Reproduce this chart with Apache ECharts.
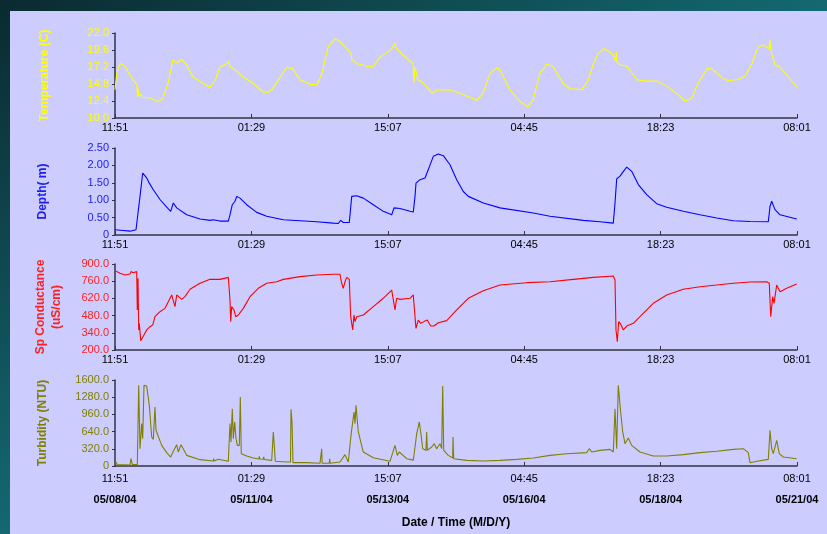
<!DOCTYPE html>
<html><head><meta charset="utf-8">
<script src="https://cdn.jsdelivr.net/npm/echarts@6/dist/echarts.min.js"></script>
<style>
html,body{margin:0;padding:0;width:827px;height:534px;overflow:hidden;
background:linear-gradient(to bottom right,#0a2a30 0%,#146870 50%,#1b7c84 100%);}
#panel{position:absolute;left:10px;top:11px;width:817px;height:523px;background:#ccccff;}
#c{position:absolute;left:0;top:0;width:827px;height:534px;}
</style></head>
<body><div id="panel"></div><div id="c"></div>
<script>
// Elapsed hours since 05/08/04 11:51
var timeLabels = ['11:51','01:29','15:07','04:45','18:23','08:01'];
var dateLabels = ['05/08/04','05/11/04','05/13/04','05/16/04','05/18/04','05/21/04'];

var tempH = [0,0.9,2.26,4.52,7.68,9.94,10.17,10.39,10.84,11.75,12.2,12.65,15.82,19.43,21.69,23.95,26.21,28.02,30.27,32.53,35.25,39.76,42.93,45.19,47.45,50.61,51.51,51.96,53.32,57.84,62.36,66.88,68.68,70.94,73.65,77.72,80.43,83.59,88.11,91.28,93.54,96.25,99.41,101.67,104.83,106.64,107.09,109.35,113.87,116.58,119.74,125.17,126.52,126.97,130.14,134.65,135.11,135.56,136.91,139.17,143.24,145.5,151.37,155.89,163.57,166.28,169.45,172.61,173.97,178.48,183.0,186.62,188.88,192.04,195.2,197.91,202.43,205.6,207.86,211.02,213.73,216.0,218.25,220.96,224.57,226.38,226.51,226.69,228.19,231.35,235.87,240.39,244.91,249.43,253.95,257.56,260.72,263.43,267.5,269.76,274.28,276.99,281.06,284.67,287.83,290.55,292.8,295.52,295.97,296.42,298.23,300.49,303.65,308.1];
var tempV = [14.0,16.5,17.7,17.3,15.6,14.7,13.0,14.3,13.0,13.4,12.9,13.1,12.85,12.3,12.8,14.9,18.2,17.8,18.3,17.4,15.8,14.9,14.35,15.3,17.2,17.7,18.0,17.3,17.0,15.8,14.9,13.7,13.6,14.0,15.3,17.2,16.9,15.4,14.75,14.7,16.3,20.0,21.2,20.8,19.8,19.1,18.2,17.7,17.3,17.2,18.6,19.8,20.6,19.9,18.9,17.7,15.0,17.2,15.4,15.0,13.5,13.95,13.95,13.5,12.5,13.5,16.3,17.1,16.8,13.95,12.33,11.6,12.5,16.3,17.6,17.3,14.9,14.1,14.1,14.0,15.3,17.5,19.1,19.8,19.1,18.0,19.3,18.0,17.5,17.3,15.4,15.2,15.2,14.5,13.4,12.4,12.8,14.9,17.0,16.9,15.7,15.3,15.4,15.9,17.7,20.0,20.3,19.8,21.0,19.5,17.5,17.2,16.0,14.4];

var depthH = [0,3.61,6.78,9.49,10.08,11.3,12.52,13.1,14.32,15.5,17.31,20.33,23.36,25.17,26.34,27.88,32.4,38.41,42.93,44.42,47.45,51.2,51.96,53.0,54.22,54.99,56.48,59.51,64.03,68.55,76.05,83.59,91.14,98.64,100.9,101.98,103.16,105.87,106.96,109.22,112.2,116.72,121.23,125.03,126.07,128.78,133.3,134.79,135.56,136.01,137.82,140.08,141.57,143.83,146.09,148.35,151.37,154.4,157.38,159.64,166.42,173.97,189.01,196.56,211.61,219.15,225.16,225.93,226.69,228.19,229.41,231.22,233.48,236.46,240.25,244.77,249.29,256.79,264.34,271.89,279.39,286.93,295.2,295.97,296.73,298.23,300.49,308.03];
var depthV = [0.15,0.13,0.11,0.15,0.2,1.11,1.78,1.83,1.64,1.49,1.30,1.02,0.80,0.68,0.92,0.78,0.58,0.46,0.42,0.44,0.40,0.40,0.58,0.87,0.97,1.11,1.06,0.87,0.65,0.54,0.44,0.41,0.38,0.34,0.33,0.42,0.36,0.36,1.11,1.13,1.06,0.87,0.68,0.58,0.78,0.76,0.68,0.66,1.11,1.49,1.59,1.64,1.88,2.26,2.33,2.28,2.02,1.59,1.25,1.11,0.92,0.78,0.63,0.54,0.42,0.38,0.34,0.92,1.61,1.69,1.80,1.95,1.83,1.45,1.16,0.90,0.80,0.68,0.58,0.49,0.41,0.39,0.38,0.82,0.97,0.73,0.58,0.46];

var condH = [0,2.26,4.52,6.78,7.23,8.27,9.81,10.08,10.39,10.71,10.98,11.61,12.52,13.1,14.32,15.82,17.04,18.07,20.33,22.59,24.08,25.62,27.11,27.88,30.14,31.63,33.89,38.41,42.93,47.45,51.2,51.96,52.28,52.73,53.18,53.77,54.54,55.72,57.97,61.0,64.75,68.55,73.07,76.05,83.59,91.14,98.64,101.67,102.43,103.16,103.93,104.7,105.87,106.5,107.41,107.99,108.45,109.22,112.2,116.72,121.23,125.03,125.75,126.52,127.29,128.78,133.3,134.79,135.56,136.01,137.05,138.13,139.62,141.12,142.65,144.14,146.09,149.88,154.4,159.64,166.42,173.97,186.03,196.56,207.09,216.13,225.16,225.93,226.38,226.97,227.6,228.5,229.68,231.22,234.2,237.23,243.24,249.29,256.79,264.34,271.89,279.39,286.93,294.48,295.65,296.28,297.19,297.77,299.0,300.49,303.52,308.03];
var condV = [846,824,810,819,838,829,838,526,783,363,417,276,303,287,363,390,403,471,512,539,593,648,553,648,612,634,694,743,775,775,791,607,431,553,558,526,471,485,539,634,702,743,756,775,797,810,816,816,743,702,756,791,775,471,363,485,431,471,485,553,621,688,675,526,621,612,621,648,471,376,444,417,431,444,395,395,422,439,526,621,683,729,748,756,775,791,802,770,363,268,431,412,363,395,417,471,580,648,694,715,729,743,753,756,743,471,634,580,729,675,702,737];

var turbH = [0,0.45,1.04,6.78,7.23,7.82,10.08,10.71,11.3,12.06,12.52,13.1,14.32,15.5,16.58,17.31,18.07,18.53,19.11,21.1,23.36,25.17,26.34,27.88,28.6,29.82,32.4,38.41,44.42,44.6,44.8,46.68,51.2,51.96,52.42,53.0,53.46,54.09,54.68,55.26,56.17,56.62,57.07,59.51,62.49,65.0,65.2,65.5,67.0,67.2,67.5,70.81,71.53,71.98,72.43,77.59,79.3,79.53,79.98,80.43,86.62,92.63,93.2,93.4,93.6,96.83,97.0,97.2,101.67,103.93,105.42,106.64,107.41,107.99,108.45,108.9,109.94,112.2,116.72,124.26,126.52,127.56,128.46,131.81,134.79,135.56,136.33,137.05,137.5,138.13,139.04,140.53,140.84,141.12,143.11,144.28,145.36,146.85,147.62,148.07,148.53,150.61,152.59,152.73,153.04,158.92,166.42,173.97,181.51,189.01,196.56,204.1,213.14,214.32,215.41,219.15,223.67,225.16,225.93,226.69,227.42,228.19,229.41,230.45,231.94,233.48,237.23,243.24,249.29,256.79,264.34,271.89,279.39,283.91,284.67,286.16,286.93,290.68,295.2,295.97,296.73,297.46,299.0,300.17,301.98,308.03];
var turbV = [25,74,25,19,136,31,25,1500,322,788,509,1500,1488,1129,540,496,1098,664,633,384,248,167,273,397,260,397,198,118,93,140,93,124,87,788,446,1067,509,819,509,384,384,1284,229,186,149,130,180,130,125,170,120,105,633,384,87,74,74,1054,819,62,62,50,50,322,50,50,136,50,74,211,74,571,540,1005,788,1129,633,260,155,87,384,198,260,136,110,353,602,571,819,633,322,291,633,291,353,415,322,415,322,1488,291,198,149,540,136,105,93,105,124,149,198,229,248,322,260,291,310,260,1067,322,1500,1129,633,415,521,384,260,186,186,211,248,273,310,322,353,248,62,93,124,663,322,229,477,229,167,136];

function pairs(h, v){ var out=[]; for(var i=0;i<h.length;i++){ out.push([h[i]*60, v[i]]); } return out; }

var TOTAL = 18490, STEP = 3698;
var FONT = 'Liberation Sans, Arial, sans-serif';
var gridTops = [33,148,264,380], gridHeights = [85,87,86,86];
var colors = ['#ffff00','#0000ff','#ff0000','#808000'];
var labelColors = ['#ffff00','#2020ee','#ff2020','#808000'];
var names = ['Temperature (C)','Depth( m)','Sp Conductance\n(uS/cm)','Turbidity (NTU)'];
var nameGaps = [62,64,50,64];
var yMin = [10,0,200,0], yMax = [22,2.5,900,1600], yInt = [2.4,0.5,140,320];
var yFmt = [
  function(v){return v.toFixed(1);},
  function(v){return v===0?'0':v.toFixed(2);},
  function(v){return v.toFixed(1);},
  function(v){return v===0?'0':v.toFixed(1);}
];
var seriesData = [pairs(tempH,tempV), pairs(depthH,depthV), pairs(condH,condV), pairs(turbH,turbV)];

var grids=[], xAxes=[], yAxes=[], series=[];
for (var i=0;i<4;i++){
  grids.push({left:115, width:682, top:gridTops[i], height:gridHeights[i]});
  var last = (i===3);
  xAxes.push({
    type:'value', gridIndex:i, min:0, max:TOTAL, interval:STEP,
    axisLine:{show:true, onZero:false, lineStyle:{color:'#333344', width:1.5}},
    axisTick:{show:true, inside:true, length:4, lineStyle:{color:'#333344', width:1}},
    splitLine:{show:false},
    axisLabel: last ? {
      color:'#000', margin:2, fontFamily:FONT,
      formatter:function(v){ var k=Math.round(v/STEP); return '{t|'+timeLabels[k]+'}\n{d|'+dateLabels[k]+'}'; },
      rich:{t:{fontSize:11, lineHeight:21, color:'#000', fontFamily:FONT},
            d:{fontSize:11, fontWeight:'bold', lineHeight:21, color:'#000', fontFamily:FONT}}
    } : {
      color:'#000', fontSize:11, margin:4, fontFamily:FONT,
      formatter:function(v){ return timeLabels[Math.round(v/STEP)]; }
    },
    name: last ? 'Date / Time (M/D/Y)' : '',
    nameLocation:'middle', nameGap:51,
    nameTextStyle:{color:'#000', fontSize:12, fontWeight:'bold', fontFamily:FONT}
  });
  yAxes.push({
    type:'value', gridIndex:i, min:yMin[i], max:yMax[i], interval:yInt[i],
    axisLine:{show:true, lineStyle:{color:'#333344', width:1.5}},
    axisTick:{show:true, length:3, lineStyle:{color:'#333344'}},
    splitLine:{show:false},
    axisLabel:{color:labelColors[i], fontSize:11, margin:6, fontFamily:FONT, formatter:yFmt[i]},
    name:names[i], nameLocation:'middle', nameGap:nameGaps[i], nameRotate:90,
    nameTextStyle:{color:labelColors[i], fontSize:12, fontWeight:'bold', fontFamily:FONT, lineHeight:16, align:'center'}
  });
  series.push({
    type:'line', xAxisIndex:i, yAxisIndex:i, data:seriesData[i],
    showSymbol:false, symbol:'none', lineStyle:{color:colors[i], width:1.1}, silent:true
  });
}

var chart = echarts.init(document.getElementById('c'), null, {renderer:'canvas'});
chart.setOption({animation:false, backgroundColor:'transparent', grid:grids, xAxis:xAxes, yAxis:yAxes, series:series});
</script></body></html>
